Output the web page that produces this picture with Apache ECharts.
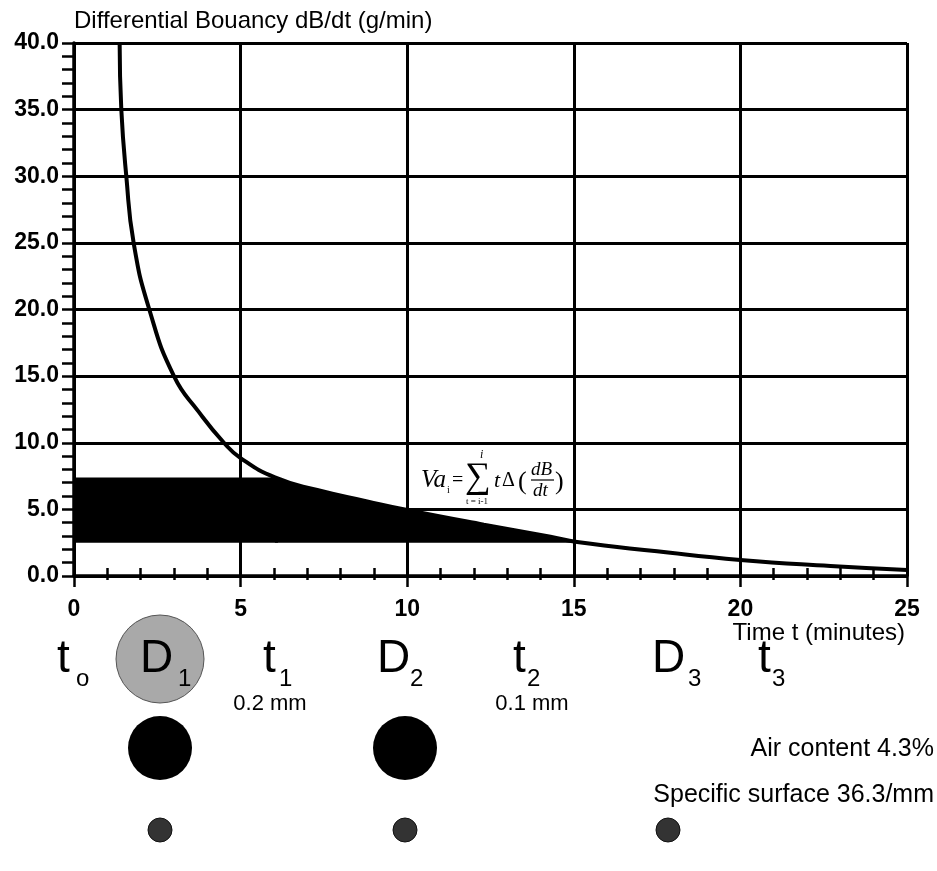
<!DOCTYPE html>
<html>
<head>
<meta charset="utf-8">
<script src="https://cdn.jsdelivr.net/npm/echarts@6/dist/echarts.min.js"></script>
<style>
html,body{margin:0;padding:0;background:#fff;}
#chart{width:937px;height:871px;}
</style>
</head>
<body>
<div id="chart"></div>
<script>
// ---- data ----
const curveTime = [1.37, 1.42, 1.57, 1.79, 2.26, 3.0, 3.75, 4.5, 5.0, 6.03, 7.3, 8.8, 10.0, 12.3, 14.3, 15.1, 17.5, 20.0, 22.7, 25.0];
const curveRate = [40, 35, 30, 25, 20, 15, 12.3, 10, 8.85, 7.4, 6.45, 5.6, 4.95, 3.85, 2.95, 2.55, 1.85, 1.2, 0.75, 0.45];
// shaded band: flat top part, then following the curve
const bandFlatTime  = [0, 6.12];
const bandFlatTop   = [7.4, 7.4];
const bandCurveTime = [6.03, 7.3, 8.8, 10.0, 12.3, 14.3, 15.0];
const bandCurveTop  = [7.4, 6.45, 5.6, 4.95, 3.85, 2.95, 2.5];
const bandBottom = 2.5;
const yAxisTitle = 'Differential Bouancy dB/dt (g/min)';
const xAxisTitle = 'Time t (minutes)';
const stageMain = ['t', 'D', 't', 'D', 't', 'D', 't'];
const stageSub  = ['o', '1', '1', '2', '2', '3', '3'];
const sizeLabels = ['0.2 mm', '0.1 mm'];
const noteLabels = ['Air content 4.3%', 'Specific surface 36.3/mm'];

const chart = echarts.init(document.getElementById('chart'), null, {renderer: 'canvas'});

const SANS = '"Liberation Sans", Arial, Helvetica, sans-serif';
const SERIF = '"Liberation Serif", "Times New Roman", serif';

function zip(a, b) { return a.map((v, i) => [v, b[i]]); }

const xCommon = {
  type: 'value', min: 0, max: 25, interval: 5,
  position: 'bottom'
};

// bottom annotation layout
const stageX = [57, 140, 263, 377, 513, 652, 758];
const subX   = [76, 178, 279, 410, 527, 688, 772];
const graphics = [];
// grey circle behind D1
graphics.push({type:'circle', shape:{cx:160, cy:659, r:44}, style:{fill:'#a9a9a9', stroke:'#555', lineWidth:1}, z:1});
stageMain.forEach((s, i) => {
  graphics.push({type:'text', x: stageX[i], y: 682, style:{text:s, font:'46px ' + SANS, fill:'#000', textVerticalAlign:'bottom'}, z:2});
  graphics.push({type:'text', x: subX[i], y: 691, style:{text:stageSub[i], font:'24px ' + SANS, fill:'#000', textVerticalAlign:'bottom'}, z:2});
});
graphics.push({type:'text', x:270, y:704, style:{text:sizeLabels[0], font:'22px ' + SANS, fill:'#000', textAlign:'center', textVerticalAlign:'middle'}});
graphics.push({type:'text', x:532, y:704, style:{text:sizeLabels[1], font:'22px ' + SANS, fill:'#000', textAlign:'center', textVerticalAlign:'middle'}});
graphics.push({type:'text', x:934, y:749, style:{text:noteLabels[0], font:'25px ' + SANS, fill:'#000', textAlign:'right', textVerticalAlign:'middle'}});
graphics.push({type:'text', x:934, y:795, style:{text:noteLabels[1], font:'25px ' + SANS, fill:'#000', textAlign:'right', textVerticalAlign:'middle'}});
// black bubbles
graphics.push({type:'circle', shape:{cx:160, cy:748, r:32}, style:{fill:'#000'}});
graphics.push({type:'circle', shape:{cx:405, cy:748, r:32}, style:{fill:'#000'}});
// small bubbles
[160, 405, 668].forEach(cx => {
  graphics.push({type:'circle', shape:{cx:cx, cy:830, r:12}, style:{fill:'#333', stroke:'#111', lineWidth:1}});
});
// axis titles
graphics.push({type:'text', x:74, y:21, style:{text:yAxisTitle, font:'24px ' + SANS, fill:'#000', textVerticalAlign:'middle'}});
graphics.push({type:'text', x:905, y:633, style:{text:xAxisTitle, font:'24px ' + SANS, fill:'#000', textAlign:'right', textVerticalAlign:'middle'}});
// formula
const f = [
  {t:'Va', x:421, y:480, font:'italic 25px ' + SERIF},
  {t:'i', x:447, y:490, font:'10px ' + SERIF},
  {t:'=', x:452, y:481, font:'20px ' + SERIF},
  {t:'\u2211', x:465, y:478, font:'36px ' + SERIF},
  {t:'i', x:480, y:455, font:'italic 12px ' + SERIF},
  {t:'t = i-1', x:466, y:502, font:'9px ' + SERIF},
  {t:'t', x:494, y:481, font:'italic 22px ' + SERIF},
  {t:'\u0394', x:502, y:481, font:'20px ' + SERIF},
  {t:'(', x:518, y:482, font:'26px ' + SERIF},
  {t:'dB', x:531, y:470, font:'italic 19px ' + SERIF},
  {t:'dt', x:533, y:491, font:'italic 19px ' + SERIF},
  {t:')', x:555, y:482, font:'26px ' + SERIF}
];
f.forEach(o => graphics.push({type:'text', x:o.x, y:o.y, style:{text:o.t, font:o.font, fill:'#000', textVerticalAlign:'middle'}, z:5}));
graphics.push({type:'line', shape:{x1:531, y1:480, x2:554, y2:480}, style:{stroke:'#000', lineWidth:1.2}, z:5});

const bandSeries = (data, smooth) => ({
  type: 'line', xAxisIndex: 0, data: data,
  showSymbol: false, smooth: smooth,
  lineStyle: {width: 0, color: '#000'},
  areaStyle: {color: '#000', opacity: 1, origin: bandBottom},
  z: 2
});

const option = {
  animation: false,
  backgroundColor: '#fff',
  grid: {left: 74, right: 30, top: 43, bottom: 295, containLabel: false},
  xAxis: [
    Object.assign({}, xCommon, {
      axisLine: {show: true, onZero: false, lineStyle: {color: '#000', width: 3.5}},
      axisTick: {show: true, inside: true, length: 8, lineStyle: {color: '#000', width: 2.5}},
      minorTick: {show: true, splitNumber: 5, length: 8, lineStyle: {color: '#000', width: 2.5}},
      axisLabel: {show: true, margin: 22, color: '#000', fontSize: 23, fontWeight: 'bold', fontFamily: SANS},
      splitLine: {show: true, lineStyle: {color: '#000', width: 3}}
    }),
    Object.assign({}, xCommon, {
      axisLine: {show: false, onZero: false},
      axisTick: {show: true, inside: false, length: 11, lineStyle: {color: '#000', width: 2.5}},
      minorTick: {show: true, splitNumber: 5, length: 4, lineStyle: {color: '#000', width: 2.5}},
      axisLabel: {show: false},
      splitLine: {show: false}
    })
  ],
  yAxis: {
    type: 'value', min: 0, max: 40, interval: 5,
    axisLine: {show: true, lineStyle: {color: '#000', width: 3.5}},
    axisTick: {show: true, inside: false, length: 12, lineStyle: {color: '#000', width: 2.5}},
    minorTick: {show: true, splitNumber: 5, length: 12, lineStyle: {color: '#000', width: 2.5}},
    axisLabel: {show: true, margin: 15, color: '#000', fontSize: 23, fontWeight: 'bold', fontFamily: SANS,
      formatter: v => v.toFixed(1)},
    splitLine: {show: true, lineStyle: {color: '#000', width: 3}}
  },
  series: [
    bandSeries(zip(bandFlatTime, bandFlatTop), false),
    bandSeries(zip(bandCurveTime, bandCurveTop), 0.5),
    {
      type: 'line', xAxisIndex: 0, data: zip(curveTime, curveRate),
      showSymbol: false, smooth: 0.5,
      lineStyle: {width: 4, color: '#000'},
      z: 3
    }
  ],
  graphic: graphics
};
chart.setOption(option);
</script>
</body>
</html>
